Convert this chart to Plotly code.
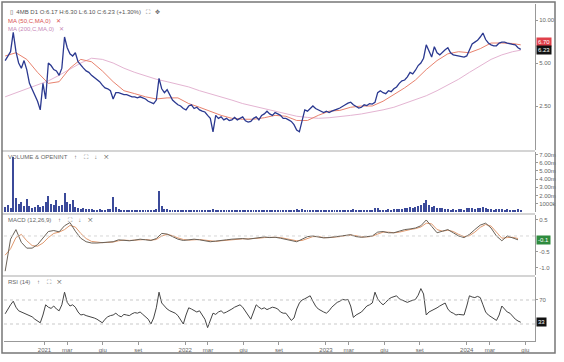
import math
import pandas as pd
import plotly.graph_objects as go
from plotly.subplots import make_subplots

# ---------------- data (weekly) ----------------
week_dates = pd.date_range("2020-09-21", periods=192, freq="7D")

close = [
    5.2, 5.6, 6.0, 8.2, 6.0, 5.0, 4.6, 5.2, 4.5, 3.6,
    3.3, 3.0, 2.7, 2.35, 3.6, 2.8, 5.0, 4.8, 4.5, 4.4,
    4.1, 4.6, 7.6, 6.4, 5.8, 5.6, 5.9, 5.1, 4.8, 4.6,
    4.4, 4.3, 4.1, 3.95, 3.85, 3.7, 3.5, 3.35, 3.3, 3.2,
    2.8, 3.1, 3.1, 3.05, 3.0, 3.0, 2.95, 2.9, 2.9, 2.85,
    2.9, 2.85, 2.8, 2.7, 2.65, 2.6, 2.75, 3.9, 3.3, 3.1,
    3.25, 2.95, 2.75, 2.65, 2.55, 2.5, 2.4, 2.35, 2.5, 2.55,
    2.4, 2.45, 2.35, 2.3, 2.27, 2.15, 2.05, 1.65, 2.15, 2.05,
    2.1, 2.0, 2.05, 1.98, 2.0, 2.08, 2.0, 2.05, 2.1, 1.97,
    1.93, 1.95, 2.05, 2.1, 2.0, 2.15, 2.2, 2.3, 2.2, 2.15,
    2.25, 2.2, 2.15, 2.05, 2.05, 2.0, 1.95, 1.85, 1.7, 1.65,
    2.0, 2.35, 2.3, 2.4, 2.5, 2.4, 2.35, 2.3, 2.25, 2.3,
    2.25, 2.3, 2.35, 2.38, 2.42, 2.5, 2.55, 2.62, 2.66, 2.55,
    2.48, 2.42, 2.45, 2.55, 2.52, 2.6, 2.58, 2.65, 3.1, 3.2,
    3.1, 3.05, 3.2, 3.15, 3.3, 3.4, 3.6, 3.75, 3.8, 4.0,
    4.3, 4.2, 4.45, 4.8, 5.0, 5.4, 6.7, 6.0, 5.5, 6.5,
    5.9, 5.7, 6.0, 6.2, 6.4, 5.9, 5.7, 5.65, 5.6, 5.55,
    5.5, 5.6, 6.2, 6.8, 7.0, 7.2, 7.6, 8.1, 7.3, 6.9,
    6.7, 6.6, 6.6, 6.9, 7.0, 7.0, 6.9, 6.8, 6.75, 6.7,
    6.4, 6.23,
]

volume_m = [
    0.6, 0.9, 0.5, 6.7, 1.7, 1.0, 1.2, 0.7, 1.6, 0.7,
    0.5, 0.6, 0.9, 0.6, 0.7, 1.2, 2.0, 1.0, 0.8, 1.4,
    0.7, 0.9, 2.3, 1.2, 1.0, 1.4, 0.6, 0.5, 0.4, 0.5,
    0.4, 0.35, 0.4, 0.3, 0.3, 0.35, 0.3, 0.3, 0.35, 0.4,
    1.8, 0.6, 0.4, 0.3, 0.25, 0.3, 0.25, 0.2, 0.25, 0.2,
    0.25, 0.2, 0.25, 0.3, 0.25, 0.3, 0.4, 2.5, 0.7, 0.4,
    0.35, 0.3, 0.25, 0.2, 0.2, 0.25, 0.2, 0.2, 0.25, 0.2,
    0.2, 0.15, 0.2, 0.2, 0.25, 0.3, 0.2, 0.35, 0.2, 0.15,
    0.15, 0.2, 0.15, 0.15, 0.2, 0.15, 0.15, 0.2, 0.15, 0.15,
    0.2, 0.15, 0.2, 0.25, 0.2, 0.15, 0.2, 0.25, 0.2, 0.15,
    0.2, 0.15, 0.15, 0.2, 0.15, 0.2, 0.25, 0.3, 0.35, 0.3,
    0.4, 0.3, 0.25, 0.2, 0.2, 0.25, 0.2, 0.2, 0.15, 0.2,
    0.2, 0.25, 0.2, 0.25, 0.3, 0.25, 0.2, 0.3, 0.25, 0.35,
    0.3, 0.25, 0.2, 0.25, 0.2, 0.25, 0.3, 0.5, 0.45, 0.3,
    0.3, 0.25, 0.35, 0.3, 0.35, 0.4, 0.35, 0.4, 0.45, 0.5,
    0.55, 0.5, 0.6, 0.7, 0.9, 1.1, 1.4, 0.8, 0.6, 0.7,
    0.5, 0.45, 0.5, 0.4, 0.35, 0.3, 0.35, 0.3, 0.4, 0.35,
    0.3, 0.45, 0.5, 0.45, 0.4, 0.5, 0.45, 0.55, 0.5, 0.4,
    0.35, 0.3, 0.35, 0.4, 0.35, 0.3, 0.35, 0.3, 0.25, 0.3,
    0.35, 0.3,
]

rsi = [
    47, 55, 62, 68, 58, 52, 50, 48, 46, 45,
    42, 38, 35, 32, 45, 62, 58, 56, 60, 55,
    52, 62, 83, 66, 60, 62, 58, 50, 45, 46,
    44, 43, 41, 40, 38, 35, 32, 38, 42, 44,
    45, 48, 44, 42, 46, 45, 44, 47, 49, 48,
    50, 46, 42, 38, 30, 40, 57, 83, 65, 60,
    55, 52, 50, 48, 44, 38, 30, 45, 57, 55,
    52, 50, 52, 45, 38, 24, 35, 48, 46, 50,
    52, 48, 50, 52, 55, 58, 60, 62, 58, 52,
    45, 38, 50, 62, 58, 55, 57, 54, 56, 58,
    57, 55, 50, 48, 48, 42, 36, 40, 55, 65,
    70, 72, 75, 77, 68, 60, 55, 52, 50, 48,
    52, 58, 62, 66, 68, 71, 70, 71, 60, 41,
    45, 48, 50, 55, 60, 62, 65, 83, 72, 66,
    62, 66, 71, 74, 75, 77, 72, 70, 68, 66,
    68, 70, 71, 78, 89, 80, 45, 50, 52, 55,
    57, 60, 63, 65, 55, 50, 48, 45, 46, 45,
    45, 60, 77, 75, 74, 76, 74, 62, 50, 45,
    42, 38, 36, 45, 60, 55, 50, 48, 42, 38,
    35, 33,
]

# moving averages, read every 4 weeks
ma_idx = list(range(0, 192, 4)) + [191]
ma50 = [
    5.6, 5.9, 5.3, 4.3, 3.6, 3.7, 4.6, 5.3, 5.1, 4.4,
    3.7, 3.2, 3.05, 2.9, 2.8, 2.85, 2.85, 2.6, 2.45, 2.3,
    2.15, 2.05, 2.02, 2.02, 2.07, 2.15, 2.12, 1.98, 1.98, 2.15,
    2.3, 2.33, 2.45, 2.5, 2.5, 2.7, 3.0, 3.35, 3.8, 4.5,
    5.2, 5.8, 6.0, 5.9, 6.3, 6.9, 6.9, 6.85, 6.7,
]
ma200 = [
    2.9, 3.1, 3.3, 3.5, 3.75, 4.1, 4.5, 5.0, 5.4, 5.3,
    5.0, 4.6, 4.3, 4.05, 3.85, 3.7, 3.55, 3.4, 3.2, 3.05,
    2.9, 2.75, 2.6, 2.5, 2.4, 2.3, 2.2, 2.12, 2.08, 2.05,
    2.07, 2.1, 2.15, 2.2, 2.27, 2.35, 2.45, 2.6, 2.75, 2.95,
    3.2, 3.5, 3.85, 4.3, 4.8, 5.3, 5.7, 6.0, 6.15,
]

# MACD (12,26,9), read every 2 weeks
macd_idx = list(range(0, 192, 2))
macd = [
    -1.1, -0.1, 0.2, -0.2, -0.38, -0.38, -0.27, -0.08, 0.14, 0.17,
    0.13, 0.32, 0.42, 0.15, -0.07, -0.18, -0.22, -0.22, -0.21, -0.2,
    -0.18, -0.12, -0.13, -0.15, -0.13, -0.1, -0.12, -0.14, -0.08, 0.08,
    0.06, -0.03, -0.1, -0.14, -0.12, -0.1, -0.12, -0.14, -0.18, -0.16,
    -0.13, -0.12, -0.1, -0.09, -0.08, -0.1, -0.08, -0.05, -0.03, -0.05,
    -0.04, -0.07, -0.1, -0.14, -0.18, -0.1, -0.02, 0.0, -0.04, -0.06,
    -0.05, -0.03, 0.0, 0.03, 0.04, -0.02, -0.04, -0.02, 0.0, 0.12,
    0.14, 0.1, 0.1, 0.15, 0.2, 0.22, 0.25, 0.32, 0.5, 0.3,
    0.1, 0.15, 0.2, 0.1, 0.0, -0.05, 0.05, 0.2, 0.34, 0.4,
    0.25, 0.0, -0.15, 0.0, -0.05, -0.12,
]
signal = [
    -0.6, -0.4, -0.05, 0.05, -0.15, -0.3, -0.32, -0.22, -0.05, 0.08,
    0.12, 0.2, 0.33, 0.28, 0.08, -0.08, -0.17, -0.2, -0.21, -0.2,
    -0.19, -0.15, -0.13, -0.14, -0.14, -0.12, -0.11, -0.13, -0.11, 0.0,
    0.05, 0.01, -0.06, -0.11, -0.13, -0.11, -0.11, -0.13, -0.16, -0.17,
    -0.15, -0.13, -0.11, -0.1, -0.09, -0.09, -0.09, -0.07, -0.05, -0.04,
    -0.04, -0.05, -0.08, -0.11, -0.15, -0.14, -0.07, -0.02, -0.02, -0.05,
    -0.05, -0.04, -0.02, 0.01, 0.03, 0.01, -0.03, -0.03, -0.01, 0.06,
    0.12, 0.12, 0.1, 0.12, 0.17, 0.2, 0.23, 0.28, 0.4, 0.38,
    0.2, 0.15, 0.18, 0.14, 0.05, -0.02, 0.01, 0.12, 0.27, 0.36,
    0.31, 0.12, -0.07, -0.05, -0.04, -0.08,
]

assert len(close) == len(week_dates) == len(volume_m) == len(rsi)
assert len(ma50) == len(ma200) == len(ma_idx)
assert len(macd) == len(signal) == len(macd_idx)

ma_dates = week_dates[ma_idx]
macd_dates = week_dates[macd_idx]

tick_dates = ["2021-01-01", "2021-03-01", "2021-06-01", "2021-09-01",
              "2022-01-01", "2022-03-01", "2022-06-01", "2022-09-01",
              "2023-01-01", "2023-03-01", "2023-06-01", "2023-09-01",
              "2024-01-01", "2024-03-01", "2024-06-01"]
tick_text = ["2021", "mar", "giu", "set", "2022", "mar", "giu", "set",
             "2023", "mar", "giu", "set", "2024", "mar", "giu"]
price_ticks = [2.5, 5.0, 10.0]
vol_ticks = [1, 2, 3, 4, 5, 6, 7]
vol_text = ["1000k", "2.00m", "3.00m", "4.00m", "5.00m", "6.00m", "7.00m"]
macd_ticks = [0.5, -0.5, -1.0]
rsi_ticks = [70]

# ---------------- figure ----------------
W, H = 564, 362
ML, MR, MT, MB = 4, 29, 4, 21
PW, PH = W - ML - MR, H - MT - MB


def px(x):
    return (x - ML) / PW


def py(y):
    return (H - MB - y) / PH


FONT = "Liberation Sans"
GREY = "#666666"

fig = make_subplots(rows=4, cols=1, shared_xaxes=True, vertical_spacing=0.0)

fig.add_trace(go.Scatter(x=ma_dates, y=ma200, mode="lines",
                         line=dict(color="#e4b4d2", width=1)), row=1, col=1)
fig.add_trace(go.Scatter(x=ma_dates, y=ma50, mode="lines",
                         line=dict(color="#e8826e", width=1)), row=1, col=1)
fig.add_trace(go.Scatter(x=week_dates, y=close, mode="lines",
                         line=dict(color="#2b3990", width=1.3)), row=1, col=1)

fig.add_trace(go.Bar(x=week_dates, y=volume_m, marker_color="#3b4a9a",
                     marker_line_width=0, width=1000 * 3600 * 24 * 2.5),
              row=2, col=1)

fig.add_trace(go.Scatter(x=macd_dates, y=signal, mode="lines",
                         line=dict(color="#e09a70", width=1)), row=3, col=1)
fig.add_trace(go.Scatter(x=macd_dates, y=macd, mode="lines",
                         line=dict(color="#6a6258", width=1)), row=3, col=1)

fig.add_trace(go.Scatter(x=week_dates, y=rsi, mode="lines",
                         line=dict(color="#444444", width=1)), row=4, col=1)

xr = ["2020-09-18", "2024-06-26"]
for i in range(1, 5):
    fig.update_xaxes(row=i, col=1, range=xr, showgrid=False, zeroline=False,
                     showline=False, showticklabels=False, ticks="")
fig.update_xaxes(row=4, col=1, showline=True, linecolor="#999999", linewidth=1,
                 showticklabels=True, tickvals=tick_dates, ticktext=tick_text,
                 ticks="outside", ticklen=3, tickcolor="#999999",
                 tickfont=dict(family=FONT, size=6, color=GREY))

axis_common = dict(side="right", showgrid=False, zeroline=False, showline=True,
                   linecolor="#999999", linewidth=1, ticks="outside", ticklen=2,
                   tickcolor="#999999", tickfont=dict(family=FONT, size=6, color=GREY))

fig.update_layout(
    width=W, height=H,
    margin=dict(l=ML, r=MR, t=MT, b=MB),
    paper_bgcolor="white", plot_bgcolor="white",
    showlegend=False, bargap=0,
    yaxis=dict(domain=[py(150), 1.0], type="log", range=[0.090, 1.112],
               tickvals=price_ticks, ticktext=[f"{v:.2f}" for v in price_ticks],
               **axis_common),
    yaxis2=dict(domain=[py(212), py(152)], range=[0, 7.3],
                tickvals=vol_ticks, ticktext=vol_text, **axis_common),
    yaxis3=dict(domain=[py(275), py(215)], range=[-1.22, 0.656],
                tickvals=macd_ticks, ticktext=[f"{v:.1f}" for v in macd_ticks],
                **axis_common),
    yaxis4=dict(domain=[0, py(277)], range=[1.7, 108.3],
                tickvals=rsi_ticks, ticktext=[str(v) for v in rsi_ticks],
                **axis_common),
)

# reference lines
fig.add_hline(y=70, row=4, col=1, line=dict(color="#bbbbbb", width=0.8, dash="dot"))
fig.add_hline(y=30, row=4, col=1, line=dict(color="#bbbbbb", width=0.8, dash="dot"))
fig.add_hline(y=0, row=3, col=1, line=dict(color="#cccccc", width=0.8, dash="dot"))

# pane separators and outer frame
for ys in (151, 214, 276):
    fig.add_shape(type="line", xref="paper", yref="paper", x0=px(2), x1=1.0,
                  y0=py(ys), y1=py(ys), line=dict(color="#aaaaaa", width=1.2))
fig.add_shape(type="rect", xref="paper", yref="paper", x0=px(2), x1=px(555),
              y0=py(353), y1=py(2), line=dict(color="#777777", width=1.5))


# pane titles
def label(x, y, text, color=GREY):
    fig.add_annotation(xref="paper", yref="paper", x=px(x), y=py(y), text=text,
                       showarrow=False, xanchor="left", yanchor="middle",
                       font=dict(family=FONT, size=6, color=color))


label(8, 12, "▯  4MB D1 O:6.17 H:6.30 L:6.10 C:6.23 (+1.30%)   ⛶   ✥", "#555555")
label(6, 21, "MA (50,C,MA,0)   ✕", "#d9534f")
label(6, 29, "MA (200,C,MA,0)   ✕", "#c88ab8")
label(6, 157, "VOLUME & OPENINT    ↑    ⛶    ↓    ✕")
label(6, 220, "MACD (12,26,9)    ↑    ⛶    ↓    ✕")
label(6, 282, "RSI (14)    ↑    ⛶    ✕")


# last-value boxes on the right axis
def box(yref, y, text, bg, shift=0):
    fig.add_annotation(xref="paper", yref=yref, x=px(536), y=y, text=text,
                       showarrow=False, xanchor="left", yanchor="middle",
                       bgcolor=bg, borderpad=1, yshift=shift,
                       font=dict(family=FONT, size=6, color="white"))


box("y", math.log10(ma50[-1]), f"{ma50[-1]:.2f}", "#e0404a", shift=3)
box("y", math.log10(close[-1]), f"{close[-1]:.2f}", "#111111", shift=-1)
box("y3", macd[-1], f"{macd[-1]:.1f}", "#2e8b3e")
box("y4", rsi[-1], f"{rsi[-1]}", "#111111")

fig.write_html("out.html", config={"displayModeBar": False},
               post_script="document.body.style.margin='0';")
